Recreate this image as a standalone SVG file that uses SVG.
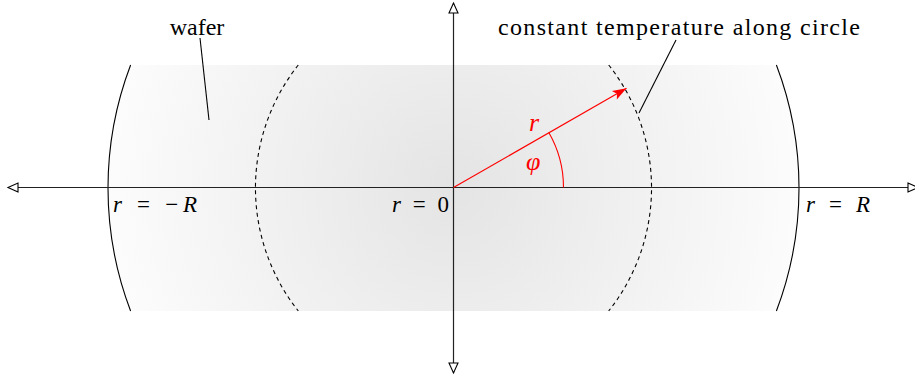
<svg xmlns="http://www.w3.org/2000/svg" width="915" height="378" viewBox="0 0 915 378">
<defs>
<radialGradient id="g" gradientUnits="userSpaceOnUse" cx="453.5" cy="187.5" r="346">
<stop offset="0" stop-color="#e4e4e4"/>
<stop offset="1" stop-color="#fcfcfc"/>
</radialGradient>
<marker id="open" markerWidth="14" markerHeight="12" refX="11" refY="6" orient="auto" markerUnits="userSpaceOnUse">
<path d="M1,1.5 L11,6 L1,10.5 Z" fill="#fff" stroke="#000" stroke-width="1.1"/>
</marker>
<marker id="stealth" markerWidth="18" markerHeight="12" refX="15" refY="6" orient="auto" markerUnits="userSpaceOnUse">
<path d="M1,1 L15,6 L1,11 L4,6 Z" fill="#ff0000"/>
</marker>
</defs>
<g id="wafer">
<path d="M130.6,65 L776.4,65 A346,346 0 0 1 776.4,311 L130.6,311 A346,346 0 0 1 130.6,65 Z" fill="url(#g)"/>
<path d="M130.6,65 A346,346 0 0 0 130.6,311" stroke="#000" stroke-width="1.1" fill="none"/>
<path d="M776.4,65 A346,346 0 0 1 776.4,311" stroke="#000" stroke-width="1.1" fill="none"/>
</g>
<g id="isotherm" stroke="#000" stroke-width="1.1" fill="none" stroke-dasharray="4,3.5">
<path d="M298.3,65 A198,198 0 0 0 298.3,311"/>
<path d="M608.7,65 A198,198 0 0 1 608.7,311"/>
</g>
<g id="connectors" fill="none">
<line x1="453.5" y1="187.5" x2="8" y2="187.5" stroke="#222" stroke-width="1.2" marker-end="url(#open)"/>
<line x1="453.5" y1="187.5" x2="918" y2="187.5" stroke="#222" stroke-width="1.2" marker-end="url(#open)"/>
<line x1="453.5" y1="187.5" x2="453.5" y2="3" stroke="#222" stroke-width="1.2" marker-end="url(#open)"/>
<line x1="453.5" y1="187.5" x2="453.5" y2="373" stroke="#222" stroke-width="1.2" marker-end="url(#open)"/>
<line x1="200" y1="38" x2="209" y2="120" stroke="#000" stroke-width="1.1"/>
<line x1="676" y1="40" x2="639" y2="113" stroke="#000" stroke-width="1.1"/>
<line x1="453.5" y1="187.5" x2="626.5" y2="88.3" stroke="#ff0000" stroke-width="1.1" marker-end="url(#stealth)"/>
<path d="M563.5,187.5 A110,110 0 0 0 548.8,132.5" stroke="#ff0000" stroke-width="1.1"/>
</g>
<g id="labels">
<text x="197" y="35" text-anchor="middle" font-family="Liberation Serif" font-size="24" fill="#000">wafer</text>
<text x="498" y="35" font-family="Liberation Serif" font-size="24" fill="#000" textLength="362" lengthAdjust="spacing">constant temperature along circle</text>
<text x="113" y="212" font-family="Liberation Serif" font-size="23" fill="#000" textLength="84" lengthAdjust="spacing"><tspan font-style="italic">r</tspan> = −<tspan font-style="italic">R</tspan></text>
<text x="392" y="212" font-family="Liberation Serif" font-size="23" fill="#000" textLength="57" lengthAdjust="spacing"><tspan font-style="italic">r</tspan> = 0</text>
<text x="806" y="212" font-family="Liberation Serif" font-size="23" fill="#000" textLength="64" lengthAdjust="spacing"><tspan font-style="italic">r</tspan> = <tspan font-style="italic">R</tspan></text>
<text x="529" y="131" font-family="Liberation Serif" font-size="26" font-style="italic" fill="#ff0000">r</text>
<text x="526" y="170" font-family="Liberation Serif" font-size="26" font-style="italic" fill="#ff0000">φ</text>
</g>
</svg>
